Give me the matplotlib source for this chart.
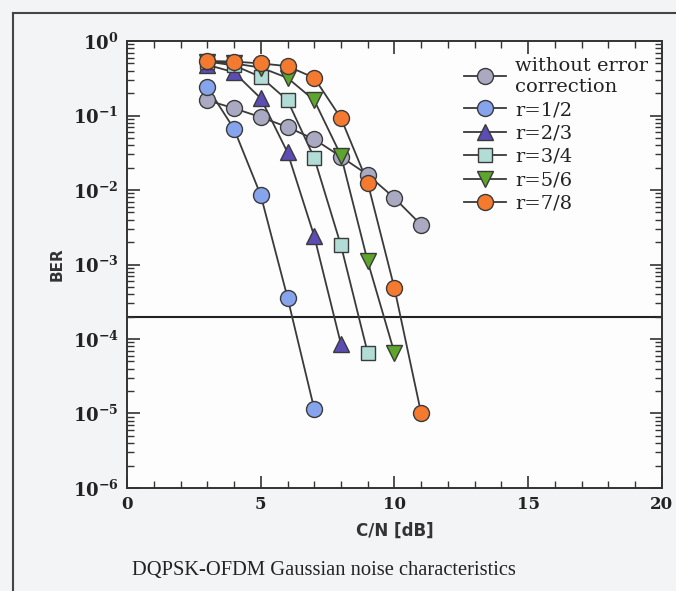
import matplotlib
matplotlib.use("Agg")
import matplotlib.pyplot as plt
from matplotlib.ticker import LogLocator, MultipleLocator, NullFormatter
from matplotlib.lines import Line2D

plt.rcParams["mathtext.fontset"] = "dejavuserif"

# C/N [dB] sample points
cn_no_fec = [3, 4, 5, 6, 7, 8, 9, 10, 11]
ber_no_fec = [0.16, 0.125, 0.095, 0.070, 0.048, 0.028, 0.016, 0.0078, 0.0034]

cn_r12 = [3, 4, 5, 6, 7]
ber_r12 = [0.24, 0.066, 0.0085, 3.6e-4, 1.15e-5]

cn_r23 = [3, 4, 5, 6, 7, 8]
ber_r23 = [0.48, 0.38, 0.17, 0.032, 0.0024, 8.5e-5]

cn_r34 = [3, 4, 5, 6, 7, 8, 9]
ber_r34 = [0.53, 0.47, 0.33, 0.16, 0.027, 0.0018, 6.5e-5]

cn_r56 = [3, 4, 5, 6, 7, 8, 9, 10]
ber_r56 = [0.53, 0.50, 0.44, 0.32, 0.16, 0.029, 0.0011, 6.5e-5]

cn_r78 = [3, 4, 5, 6, 7, 8, 9, 10, 11]
ber_r78 = [0.54, 0.53, 0.50, 0.46, 0.32, 0.092, 0.0125, 4.8e-4, 1.0e-5]

ber_limit = 2e-4

series = [
    (cn_no_fec, ber_no_fec, "without error\ncorrection", "o", "#a9a9c2"),
    (cn_r12, ber_r12, "r=1/2", "o", "#86a4ec"),
    (cn_r23, ber_r23, "r=2/3", "^", "#5b4db3"),
    (cn_r34, ber_r34, "r=3/4", "s", "#b2ddd6"),
    (cn_r56, ber_r56, "r=5/6", "v", "#5da52c"),
    (cn_r78, ber_r78, "r=7/8", "o", "#f47a30"),
]

fig = plt.figure(figsize=(6.76, 5.91), dpi=100, facecolor="#f3f4f6")
ax = fig.add_axes([0.188, 0.1743, 0.791, 0.7563])
ax.set_facecolor("#fdfdfd")

# outer frame of the figure panel
fig.add_artist(Line2D([13 / 676, 13 / 676], [0, 1 - 13 / 591], color="#444444", lw=1.5))
fig.add_artist(Line2D([13 / 676, 1], [1 - 13 / 591, 1 - 13 / 591], color="#444444", lw=1.5))

handles = []
for x, y, label, m, c in series:
    ms = 11 if m in "^v" else (10 if m == "s" else 11.5)
    ax.plot(x, y, color="#3a3a3a", lw=1.3, zorder=2)
    ax.plot(x, y, ls="none", marker=m, ms=ms, mfc=c, mec="#3a3a3a", mew=1.0, zorder=3)
    handles.append(Line2D([], [], color="#3a3a3a", lw=1.3, marker=m, ms=ms,
                          mfc=c, mec="#3a3a3a", mew=1.0, label=label))

ax.axhline(ber_limit, color="#222222", lw=1.5, zorder=1)

ax.set_yscale("log")
ax.set_xlim(0, 20)
ax.set_ylim(1e-6, 1)

ax.xaxis.set_major_locator(MultipleLocator(5))
ax.xaxis.set_minor_locator(MultipleLocator(1))
ax.yaxis.set_minor_locator(LogLocator(base=10, subs=range(2, 10), numticks=20))
ax.yaxis.set_minor_formatter(NullFormatter())
ax.tick_params(which="both", direction="in", top=True, right=True, color="#333333")
ax.tick_params(which="major", length=9, width=1.2, pad=6)
ax.tick_params(which="minor", length=5, width=1.0)
for sp in ax.spines.values():
    sp.set_linewidth(1.4)
    sp.set_color("#333333")

ax.set_yticks([10.0 ** k for k in range(-6, 1)])
ax.set_yticklabels([f"$\\mathbf{{10^{{{k}}}}}$" for k in range(-6, 1)],
                   fontsize=13, color="#222222")
for t in ax.get_xticklabels():
    t.set_fontfamily("DejaVu Serif")
    t.set_fontweight("bold")
    t.set_fontsize(12)
    t.set_color("#222222")

ax.set_xlabel("C/N [dB]", fontsize=12, fontweight="bold", color="#333333", labelpad=6)
ax.set_ylabel("BER", fontsize=11, fontweight="bold", color="#333333", labelpad=6)

leg = ax.legend(handles=handles, loc="upper right", bbox_to_anchor=(1.0, 0.995),
                frameon=False, handlelength=2.2, handletextpad=0.45,
                labelspacing=0.28, borderaxespad=0.3,
                prop={"family": "DejaVu Serif", "size": 14})
for t in leg.get_texts():
    t.set_color("#222222")

fig.text(324 / 676, 1 - 570 / 591, "DQPSK-OFDM Gaussian noise characteristics",
         ha="center", va="center", fontsize=14.8, family="Liberation Serif", color="#222222")

fig.savefig("out.png", dpi=100, facecolor=fig.get_facecolor())
